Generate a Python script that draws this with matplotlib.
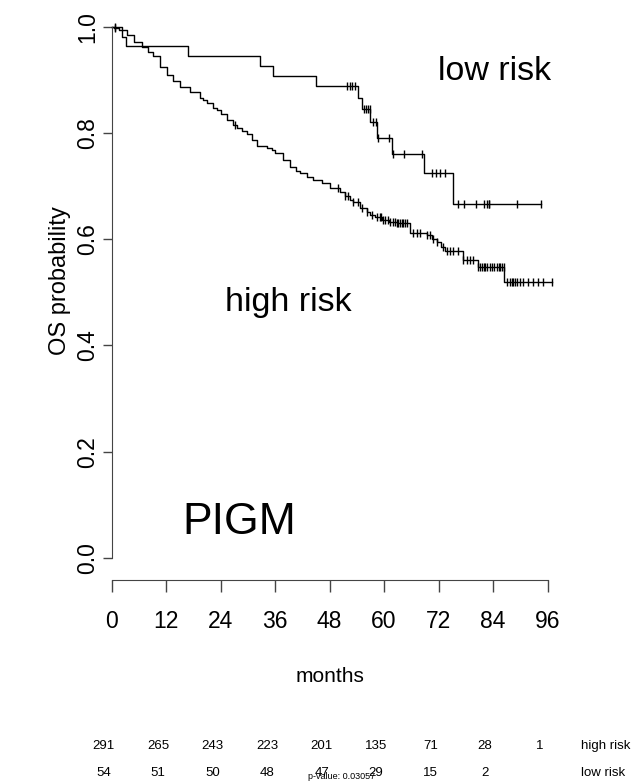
import numpy as np
import matplotlib
matplotlib.use('Agg')
import matplotlib.pyplot as plt
import matplotlib.transforms as mtransforms

plt.rcParams['font.family'] = ['Liberation Sans', 'DejaVu Sans']

# 高风险组：阶梯生存曲线 (月, 生存率)
high_t = [0, 0.4, 1.5, 3.3, 5.0, 6.6, 8.0, 9.2, 10.7, 12.1, 13.5, 15.0, 17.2, 19.4,
          20.2, 21.0, 22.4, 23.1, 24.0, 25.3, 26.8, 27.5, 28.6, 29.7, 30.8, 31.9,
          34.2, 35.2, 36.0, 37.8, 39.3, 40.5, 41.5, 43.0, 44.4, 46.3, 48.1, 50.3,
          51.4, 52.5, 53.2, 54.7, 56.2, 56.9, 58.0, 59.5, 61.0, 62.8, 65.7, 69.4,
          70.5, 71.6, 72.5, 73.4, 77.4, 80.7, 86.5]
high_s = [1.0, 0.997, 0.993, 0.984, 0.972, 0.962, 0.952, 0.944, 0.925, 0.909, 0.897,
          0.887, 0.878, 0.866, 0.862, 0.856, 0.847, 0.844, 0.835, 0.824, 0.815, 0.809,
          0.803, 0.798, 0.787, 0.776, 0.772, 0.768, 0.762, 0.749, 0.735, 0.729, 0.724,
          0.717, 0.711, 0.705, 0.696, 0.689, 0.682, 0.673, 0.670, 0.658, 0.652, 0.646,
          0.641, 0.637, 0.633, 0.630, 0.612, 0.608, 0.601, 0.595, 0.586, 0.577, 0.561,
          0.548, 0.520]
high_end = 96.9
high_cens = [0.7, 27.2, 49.9, 51.4, 52.1, 53.2, 54.3, 55.1, 56.2, 57.3, 58.4, 59.1,
             59.4, 59.8, 60.3, 60.9, 61.3, 62.0, 62.4, 62.8, 63.1, 63.5, 63.9, 64.2,
             64.6, 65.0, 66.4, 67.2, 67.9, 69.4, 70.1, 70.8, 71.6, 73.0, 73.8, 74.5,
             75.2, 76.3, 77.4, 78.2, 78.9, 79.6, 80.7, 81.1, 81.5, 81.9, 82.2, 82.7,
             83.3, 83.7, 84.1, 84.8, 85.2, 85.5, 85.9, 86.3, 87.0, 87.7, 88.1, 88.5,
             88.8, 89.2, 89.9, 90.7, 91.8, 92.9, 94.0, 95.1, 96.9]

# 低风险组
low_t = [0, 2.2, 3.2, 16.7, 32.7, 35.6, 44.9, 54.3, 55.2, 57.0, 58.4, 61.7, 68.7, 75.1]
low_s = [1.0, 0.981, 0.963, 0.944, 0.926, 0.907, 0.888, 0.866, 0.846, 0.820, 0.791,
         0.760, 0.725, 0.666]
low_end = 94.6
low_cens = [0.7, 51.9, 52.5, 53.0, 53.6, 55.6, 56.0, 56.4, 56.9, 57.6, 58.2, 58.7,
            61.0, 62.0, 64.4, 68.3, 70.5, 71.4, 72.4, 73.5, 76.3, 77.7, 80.2, 82.0,
            82.6, 83.0, 83.2, 89.2, 94.6]

# 风险人数表
risk_times = [0, 12, 24, 36, 48, 60, 72, 84, 96]
high_atrisk = [291, 265, 243, 223, 201, 135, 71, 28, 1]
low_atrisk = [54, 51, 50, 48, 47, 29, 15, 2]
p_text = 'p-value: 0.03057'


def step_value(t, s, x):
    idx = np.searchsorted(t, x, side='right') - 1
    return np.asarray(s)[idx]


fig = plt.figure(figsize=(6.32, 7.84), dpi=100)
ax = fig.add_axes([111.7 / 632, 226 / 784, 454 / 632, 531.3 / 784])
ax.set_xlim(0, 100)
ax.set_ylim(0, 1)

for t, s, end, cens in [(high_t, high_s, high_end, high_cens),
                        (low_t, low_s, low_end, low_cens)]:
    tt = np.append(t, end)
    ss = np.append(s, s[-1])
    ax.step(tt, ss, where='post', color='black', lw=1.0, clip_on=False)
    cy = step_value(t, s, np.array(cens))
    ax.plot(cens, cy, ls='none', marker='|', ms=5.5, mew=1.0, color='black',
            clip_on=False)

# 坐标轴样式 (R 风格)
axis_col = '#444444'
for side in ['top', 'right']:
    ax.spines[side].set_visible(False)
ax.spines['left'].set_bounds(0, 1)
ax.spines['left'].set_color(axis_col)
ax.spines['bottom'].set_position(('outward', 15.8))
ax.spines['bottom'].set_bounds(0, 96)
ax.spines['bottom'].set_color(axis_col)

ax.set_xticks(risk_times)
ax.set_yticks([0, 0.2, 0.4, 0.6, 0.8, 1.0])
ax.set_yticklabels(['0.0', '0.2', '0.4', '0.6', '0.8', '1.0'], rotation=90, va='center')
ax.tick_params(axis='x', length=8.6, width=1, color=axis_col, pad=13, labelsize=16.5)
ax.tick_params(axis='y', length=6.5, width=1, color=axis_col, pad=2.5, labelsize=16.5)

ax.set_ylabel('OS probability', fontsize=17, va='center')
ax.yaxis.set_label_coords(-0.114, 0.523)
fig.text(329.7 / 632, 1 - 677 / 784, 'months', fontsize=15, ha='center', va='center')

ax.text(71.9, 0.900, 'low risk', fontsize=24.5, va='baseline')
ax.text(24.96, 0.4655, 'high risk', fontsize=24.5, va='baseline')
ax.text(15.5, 0.045, 'PIGM', fontsize=32, va='baseline')

# 风险人数表
trans = mtransforms.blended_transform_factory(ax.transData, fig.transFigure)
shift = mtransforms.ScaledTranslation(-8 / 100, 0, fig.dpi_scale_trans)
for x, n in zip(risk_times, high_atrisk):
    fig.text(x, 1 - 746 / 784, str(n), transform=trans + shift, fontsize=9.5,
             ha='center', va='center')
for x, n in zip(risk_times, low_atrisk):
    fig.text(x, 1 - 773 / 784, str(n), transform=trans + shift, fontsize=9.5,
             ha='center', va='center')
fig.text(103.4, 1 - 746 / 784, 'high risk', transform=trans, fontsize=9.5, va='center')
fig.text(103.4, 1 - 773 / 784, 'low risk', transform=trans, fontsize=9.5, va='center')
fig.text(342 / 632, 1 - 779 / 784, p_text, fontsize=6.5, ha='center', va='baseline')

fig.savefig('out.png', dpi=100)
